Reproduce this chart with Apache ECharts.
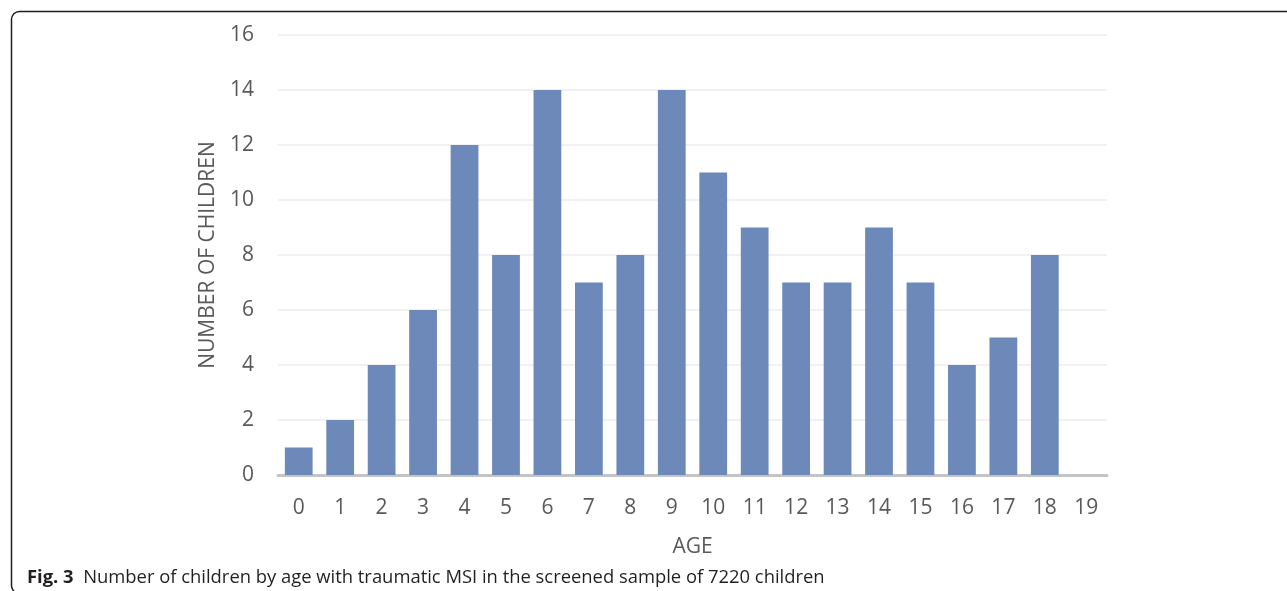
<!DOCTYPE html>
<html>
<head>
<meta charset="utf-8">
<script src="https://cdn.jsdelivr.net/npm/echarts@6/dist/echarts.min.js"></script>
<style>
  html, body { margin: 0; padding: 0; background: #ffffff; }
  #chart { width: 1287px; height: 591px; }
</style>
</head>
<body>
<div id="chart"></div>
<script>
// Children with traumatic MSI, counted by age (years)
const ages = ['0','1','2','3','4','5','6','7','8','9','10','11','12','13','14','15','16','17','18','19'];
const childCounts = [1, 2, 4, 6, 12, 8, 14, 7, 8, 14, 11, 9, 7, 7, 9, 7, 4, 5, 8, 0];
const yTicks = { min: 0, max: 16, step: 2 };

const captionBold = 'Fig. 3';
const captionText = 'Number of children by age with traumatic MSI in the screened sample of 7220 children';

const FONT = '"Open Sans", "Noto Sans", sans-serif';
const TEXT = '#595959';

const chart = echarts.init(document.getElementById('chart'), null, { renderer: 'canvas' });

chart.setOption({
  backgroundColor: '#ffffff',
  animation: false,
  textStyle: { fontFamily: FONT },
  grid: { left: 278, right: 180, top: 35, bottom: 116, containLabel: false },
  title: {
    left: 22,
    top: 564,
    text: '{b|' + captionBold + '}  ' + captionText,
    textStyle: {
      fontFamily: FONT,
      fontSize: 18.4,
      fontWeight: 'normal',
      color: '#231f20',
      rich: {
        b: { fontFamily: FONT, fontSize: 18.4, fontWeight: 'bold', color: '#231f20' }
      }
    }
  },
  graphic: [{
    type: 'rect',
    silent: true,
    shape: { x: 11.5, y: 11.5, width: 1320, height: 582, r: [8, 0, 0, 8] },
    style: { fill: 'none', stroke: '#1e1e1e', lineWidth: 1.5 }
  }],
  xAxis: {
    type: 'category',
    data: ages,
    name: 'AGE',
    nameLocation: 'middle',
    nameGap: 62,
    nameTextStyle: { fontFamily: FONT, fontSize: 21, color: TEXT },
    axisLine: { show: true, lineStyle: { color: '#c4c4c4', width: 3 } },
    axisTick: { show: false },
    axisLabel: { fontFamily: FONT, fontSize: 21, color: TEXT, margin: 23 },
    splitLine: { show: false }
  },
  yAxis: {
    type: 'value',
    min: yTicks.min,
    max: yTicks.max,
    interval: yTicks.step,
    name: 'NUMBER OF CHILDREN',
    nameLocation: 'middle',
    nameGap: 59,
    nameTextStyle: { fontFamily: FONT, fontSize: 21, color: TEXT },
    axisLine: { show: false },
    axisTick: { show: false },
    axisLabel: { fontFamily: FONT, fontSize: 21, color: TEXT, margin: 24 },
    splitLine: { show: true, lineStyle: { color: '#ececec', width: 1.5 } }
  },
  series: [{
    type: 'bar',
    data: childCounts,
    barWidth: '67%',
    itemStyle: { color: '#6d89b9' },
    label: { show: false }
  }]
});
</script>
</body>
</html>
